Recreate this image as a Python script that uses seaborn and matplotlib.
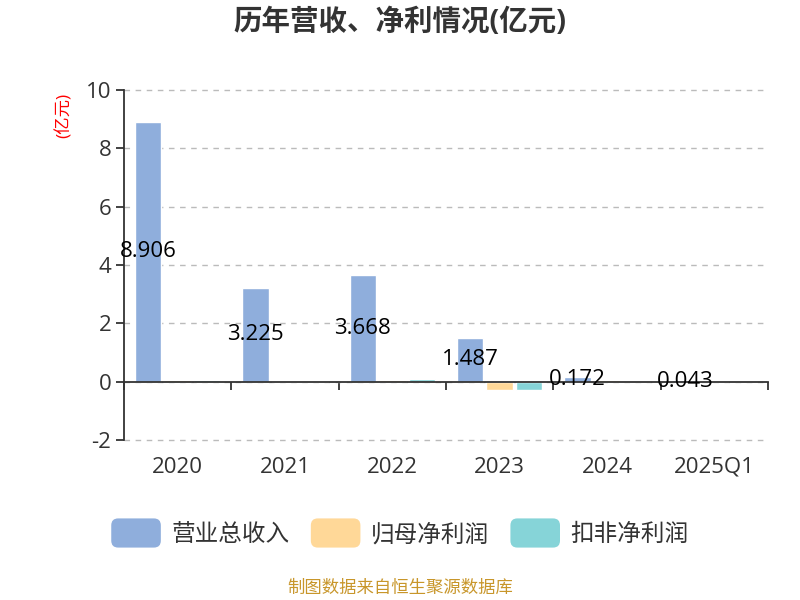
import seaborn as sns
import matplotlib
matplotlib.use('Agg')
import matplotlib.pyplot as plt
from matplotlib.patches import FancyBboxPatch
from matplotlib.legend_handler import HandlerPatch
import pandas as pd

# data (亿元)
years = ['2020', '2021', '2022', '2023', '2024', '2025Q1']
revenue = [8.906, 3.225, 3.668, 1.487, 0.172, 0.043]
net_profit = [0.04, 0.03, 0.07, -0.27, 0.04, 0.008]
deducted_profit = [0.04, 0.03, 0.09, -0.30, 0.03, 0.006]
series_names = ['营业总收入', '归母净利润', '扣非净利润']
colors = ['#8FAEDC', '#FFD898', '#86D4D8']

df = pd.DataFrame({
    'year': years * 3,
    'value': revenue + net_profit + deducted_profit,
    'series': [s for s in series_names for _ in years],
})

sns.set_style('white')
plt.rcParams['font.family'] = ['Open Sans', 'Noto Sans CJK SC', 'DejaVu Sans']
plt.rcParams['axes.unicode_minus'] = False

fig = plt.figure(figsize=(8, 6), dpi=100)
ax = fig.add_axes([0.155, 0.2667, 0.805, 0.5833])

sns.barplot(data=df, x='year', y='value', hue='series', palette=colors,
            width=0.825, gap=0.1, ax=ax, legend=False, saturation=1)

# value labels for revenue, centred on bar
for i, v in enumerate(revenue):
    ax.text(i - 0.275, v / 2, f'{v:.3f}', ha='center', va='center',
            fontsize=16, color='black')

ax.set_ylim(-2, 10)
ax.set_xlim(-0.5, len(years) - 0.5)
ax.set_yticks(range(-2, 11, 2))
ax.yaxis.grid(True, linestyle=(0, (4, 4)), color='#bbbbbb', linewidth=1)
ax.set_axisbelow(True)
for gl in ax.get_ygridlines():
    gl.set_clip_on(False)

for s in ['top', 'right']:
    ax.spines[s].set_visible(False)
ax.spines['left'].set_color('#333333')
ax.spines['left'].set_linewidth(1.3)
ax.spines['bottom'].set_position(('data', 0))
ax.spines['bottom'].set_color('#333333')
ax.spines['bottom'].set_linewidth(1.3)

ax.tick_params(axis='y', length=6, width=1.3, color='#333333',
               labelsize=16, labelcolor='#333333', left=True, pad=3)
ax.set_xticks(range(len(years)))
ax.set_xticklabels(years)
ax.tick_params(axis='x', which='major', length=0, pad=54,
               labelsize=16, labelcolor='#333333')
ax.set_xticks([i - 0.5 for i in range(len(years) + 1)], minor=True)
ax.tick_params(axis='x', which='minor', length=6, width=1.3,
               color='#333333', bottom=True, direction='out')
ax.set_xlabel('')
ax.set_ylabel('')

fig.text(0.5, 0.962, '历年营收、净利情况(亿元)', ha='center', va='center',
         fontsize=20.5, fontweight='bold', color='#333333')
fig.text(0.08, 0.808, '(亿元)', ha='center', va='center', rotation=90,
         fontsize=12.5, color='red')
fig.text(0.5, 0.018, '制图数据来自恒生聚源数据库', ha='center', va='center',
         fontsize=12.5, color='#C8962A')


class RoundHandler(HandlerPatch):
    def create_artists(self, legend, orig_handle, xdescent, ydescent,
                       width, height, fontsize, trans):
        p = FancyBboxPatch((-xdescent, -ydescent - 4), width, height + 8,
                           boxstyle='round,pad=0,rounding_size=5',
                           facecolor=orig_handle.get_facecolor(),
                           edgecolor='none', transform=trans)
        return [p]


handles = [plt.Rectangle((0, 0), 1, 1, facecolor=c) for c in colors]
fig.legend(handles, series_names, loc='center', bbox_to_anchor=(0.5, 0.108),
           ncol=3, frameon=False, fontsize=17, handlelength=2.1,
           handleheight=0.8, handletextpad=0.45, columnspacing=0.9,
           labelcolor='#333333',
           handler_map={plt.Rectangle: RoundHandler()})

fig.savefig('out.png', dpi=100)
